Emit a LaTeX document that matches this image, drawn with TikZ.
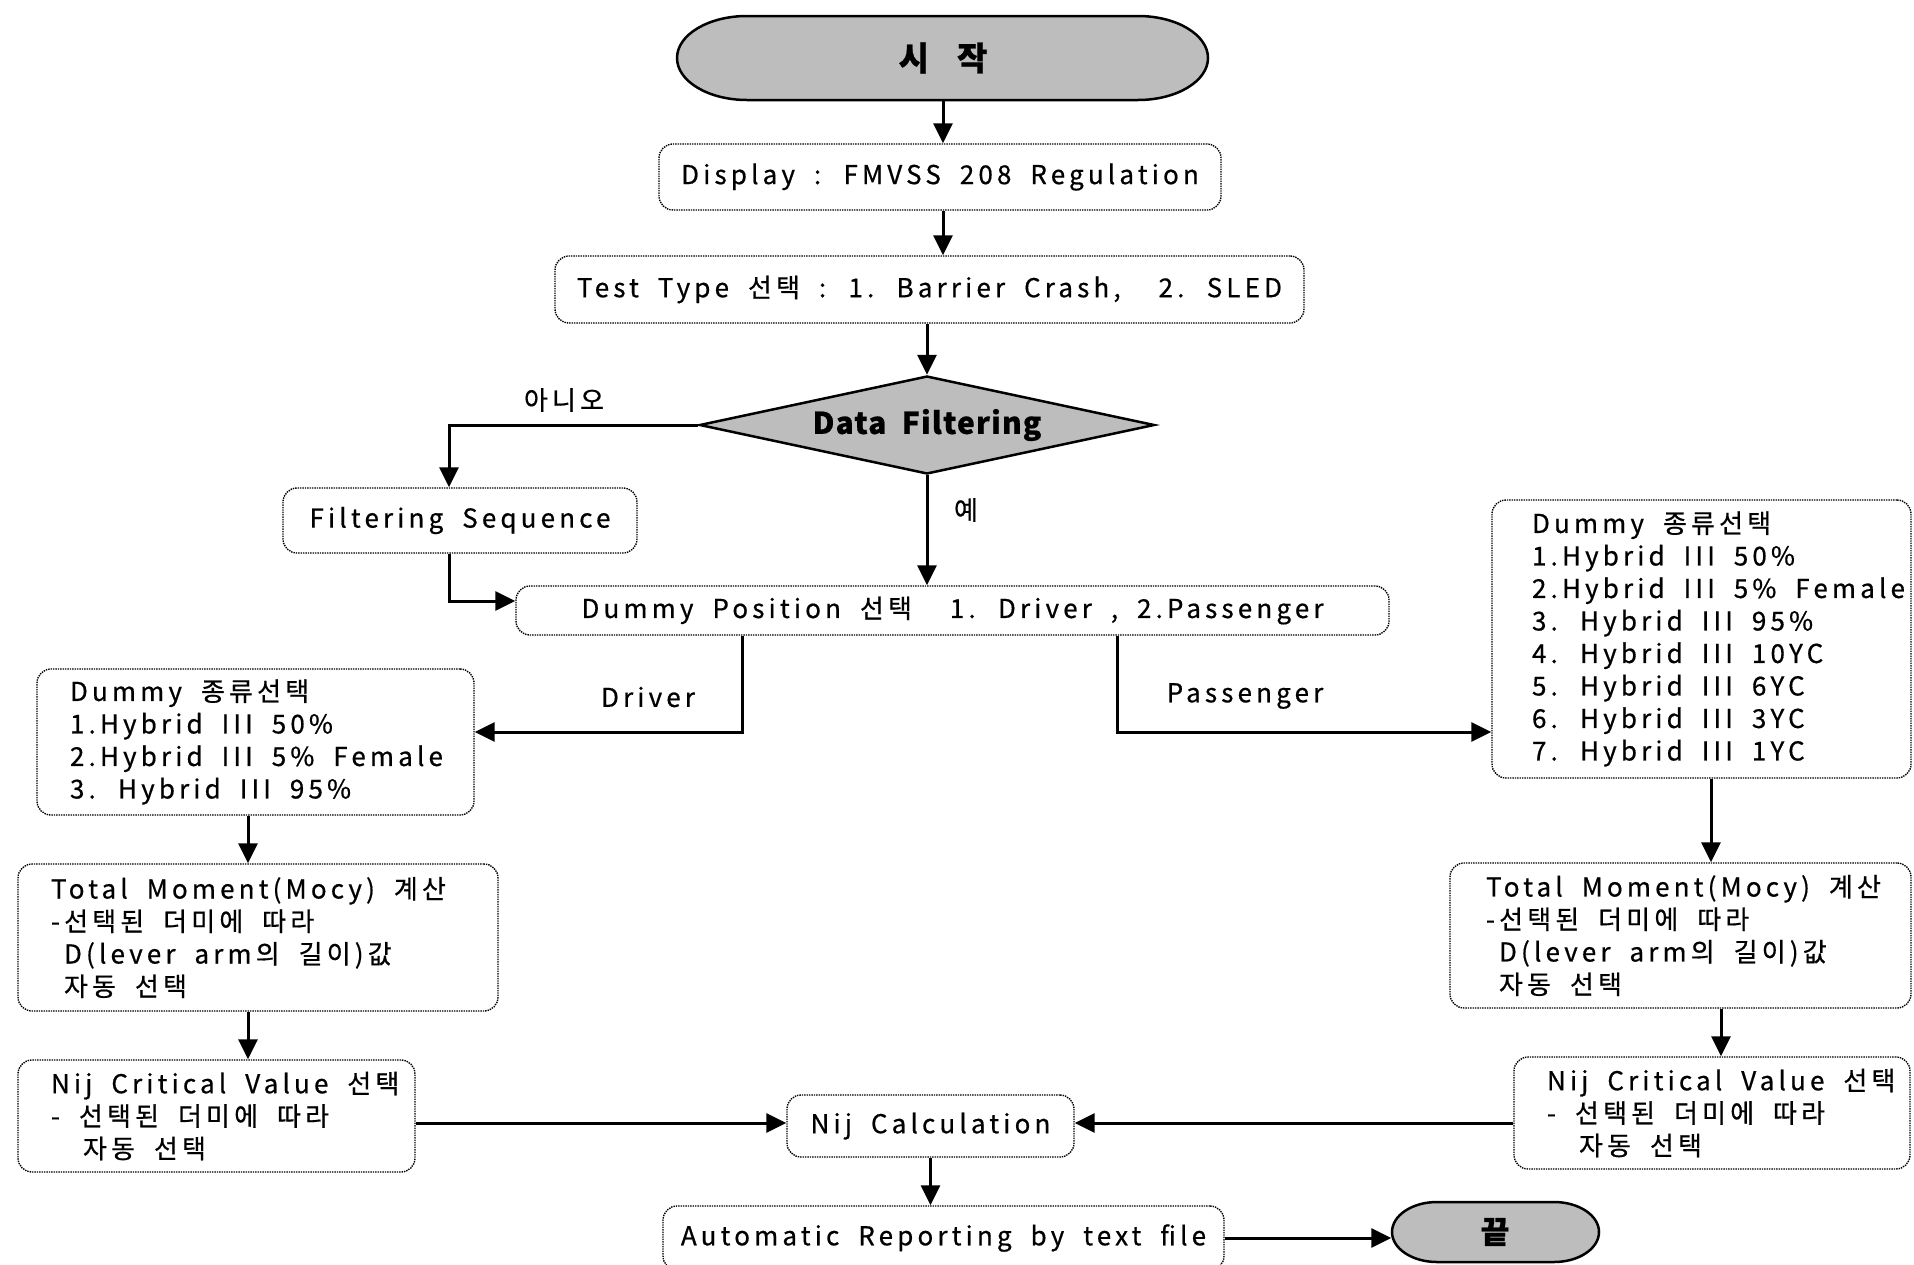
\documentclass[tikz,border=0pt]{standalone}
\usepackage{fontspec}
\setmainfont[LetterSpace=16,WordSpace=1.9,FakeBold=0.6]{Noto Sans CJK KR}
\usetikzlibrary{arrows.meta,shapes.geometric}
\newcommand\myline[1]{\mbox{#1}}
\begin{document}
\begin{tikzpicture}[x=1pt,y=1pt,
  box/.style={draw, densely dotted, line width=1.4pt, rounded corners=14pt, inner sep=0pt,
     font=\fontsize{26}{32.5}\selectfont},
  mbox/.style={box, align=flush left},
  lbl/.style={inner sep=0pt, font=\fontsize{26}{30}\selectfont},
  arr/.style={line width=3pt, -{Triangle[length=20pt,width=19pt]}},
  term/.style={fill=black!26, draw, line width=2.5pt},
]
\useasboundingbox (0,0) rectangle (1914,-1264);
\fill[white] (0,0) rectangle (1914,-1264);

% start terminal
\draw[term] (747,-16) -- (1138,-16) arc[start angle=90,end angle=-90,x radius=70,y radius=42]
  -- (747,-100) arc[start angle=270,end angle=90,x radius=70,y radius=42] -- cycle;
\node[inner sep=0pt, minimum width=531, minimum height=84, font=\fontsize{33}{33}\selectfont\bfseries] (start) at (943,-58) {시\hspace{28pt}작};

\node[box, minimum width=562, minimum height=66] (disp) at (940,-177) {Display : FMVSS 208 Regulation};
\node[box, minimum width=749, minimum height=67] (test) at (929.5,-289.5) {Test Type 선택 : 1. Barrier Crash,\ \ 2. SLED};
\node[diamond, aspect=4.64, inner sep=0pt, minimum width=455, minimum height=98, draw, line width=2.5pt, fill=black!26,
  font=\fontsize{30}{30}\selectfont\bfseries\addfontfeatures{LetterSpace=4}] (dia) at (927,-425) {Data Filtering};
\node[box, minimum width=354, minimum height=65] (fs) at (460,-520.5) {Filtering Sequence};
\node[box, minimum width=873, minimum height=49] (dpos) at (952.5,-610.5) {Dummy Position 선택\ \ 1. Driver , 2.Passenger};

\node[mbox, minimum width=437, minimum height=146, text width=371] (ldummy) at (255.5,-742)
 {\myline{Dummy 종류선택}\\ \myline{1.Hybrid III 50\%}\\ \myline{2.Hybrid III 5\% Female}\\ \myline{3. Hybrid III 95\%}};
\node[mbox, minimum width=480, minimum height=147, text width=414] (ltm) at (258,-937.5)
 {\myline{Total Moment(Mocy) 계산}\\ \myline{-선택된 더미에 따라}\\ \myline{\hspace{13pt}D(lever arm의 길이)값}\\ \myline{\hspace{13pt}자동 선택}};
\node[mbox, minimum width=397, minimum height=112, text width=331] (lnij) at (216.5,-1116)
 {\myline{Nij Critical Value 선택}\\ \myline{- 선택된 더미에 따라}\\ \myline{\hspace{32pt}자동 선택}};

\node[box, minimum width=287, minimum height=62] (nijc) at (930.5,-1126) {Nij Calculation};
\node[box, minimum width=561, minimum height=64] (auto) at (943.5,-1238) {Automatic Reporting by text file};

% end terminal
\draw[term] (1437,-1202) -- (1554,-1202) arc[start angle=90,end angle=-90,x radius=45,y radius=30]
  -- (1437,-1262) arc[start angle=270,end angle=90,x radius=45,y radius=30] -- cycle;
\node[inner sep=0pt, minimum width=207, minimum height=60, font=\fontsize{31}{31}\selectfont\bfseries] (end) at (1495,-1232) {끝};

\node[mbox, minimum width=419, minimum height=278, text width=339] (rdummy) at (1701.5,-639)
 {\myline{Dummy 종류선택}\\ \myline{1.Hybrid III 50\%}\\ \myline{2.Hybrid III 5\% Female}\\ \myline{3. Hybrid III 95\%}\\
  \myline{4. Hybrid III 10YC}\\ \myline{5. Hybrid III 6YC}\\ \myline{6. Hybrid III 3YC}\\ \myline{7. Hybrid III 1YC}};
\node[mbox, minimum width=461, minimum height=145, text width=389] (rtm) at (1680.5,-935.5)
 {\myline{Total Moment(Mocy) 계산}\\ \myline{-선택된 더미에 따라}\\ \myline{\hspace{13pt}D(lever arm의 길이)값}\\ \myline{\hspace{13pt}자동 선택}};
\node[mbox, minimum width=396, minimum height=112, text width=330] (rnij) at (1712,-1113)
 {\myline{Nij Critical Value 선택}\\ \myline{- 선택된 더미에 따라}\\ \myline{\hspace{32pt}자동 선택}};

% labels
\node[lbl] (no) at (564,-400) {아니오};
\node[lbl] (yes) at (966,-510) {예};
\node[lbl] (drvl) at (648,-697) {Driver};
\node[lbl] (pasl) at (1245,-696) {Passenger};

% helper x positions
\coordinate (xfs) at (449,0);
\coordinate (xdrv) at (742,0);
\coordinate (xpas) at (1117,0);
\coordinate (xl) at (248,0);
\coordinate (xr1) at (1711,0);
\coordinate (xr2) at (1721,0);
\coordinate (ydrv) at (0,-732);
\coordinate (yfs) at (0,-601);
\coordinate (ynij) at (0,-1123);

% connectors
\draw[arr] (start.south) -- (start.south |- disp.north);
\draw[arr] (disp.south -| start.south) -- (start.south |- test.north);
\draw[arr] (test.south -| dia.north) -- (dia.north);
\draw[arr] (dia.west) -| (fs.north -| xfs);
\draw[arr] (fs.south -| xfs) |- (dpos.west |- yfs);
\draw[arr] (dia.south) -- (dia.south |- dpos.north);
\draw[arr] (dpos.south -| xdrv) |- (ldummy.east |- ydrv);
\draw[arr] (dpos.south -| xpas) |- (rdummy.west |- ydrv);
\draw[arr] (ldummy.south -| xl) -- (ltm.north -| xl);
\draw[arr] (ltm.south -| xl) -- (lnij.north -| xl);
\draw[arr] (lnij.east |- ynij) -- (nijc.west |- ynij);
\draw[arr] (rdummy.south -| xr1) -- (rtm.north -| xr1);
\draw[arr] (rtm.south -| xr2) -- (rnij.north -| xr2);
\draw[arr] (rnij.west |- ynij) -- (nijc.east |- ynij);
\draw[arr] (nijc.south) -- (nijc.south |- auto.north);
\draw[arr] (auto.east) -- (end.west |- auto.east);
\end{tikzpicture}
\end{document}
